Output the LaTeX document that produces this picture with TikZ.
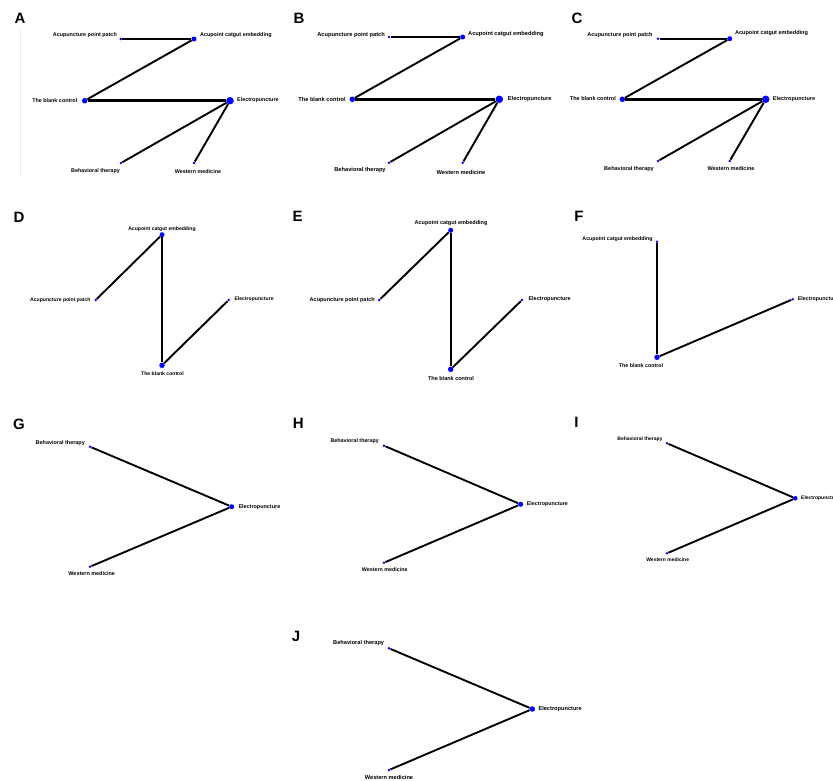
\documentclass[tikz,border=0pt]{standalone}
\usepackage{fontspec}
\newfontfamily\arialfont{Liberation Sans}
\definecolor{dotblue}{RGB}{0,0,255}
\tikzset{
  dot/.style={circle, fill=dotblue, draw=none, inner sep=0pt, minimum size=#1},
  edge/.style={line width=#1, black},
  lbl/.style={font=\arialfont\bfseries\fontsize{#1}{#1}\selectfont, inner sep=0pt, text=black},
  panel/.style={font=\arialfont\bfseries\fontsize{15}{15}\selectfont, inner sep=0pt}
}
\begin{document}
\begin{tikzpicture}[x=1pt,y=-1pt]
\path[use as bounding box] (0,0) rectangle (833,780);
\clip (0,0) rectangle (833,780);
\fill[white] (0,0) rectangle (833,780);

% ---------- A ----------
\node[panel] (LA) at (20,18) {A};
\draw[gray!15, line width=0.5pt] (20,30) -- (20,177);
\node[dot=2.8] (Ap) at (120.7,39) {};
\node[dot=5]   (Ac) at (194,39) {};
\node[dot=5.5] (Ab) at (84.7,100.7) {};
\node[dot=7.5] (Ae) at (230,100.7) {};
\node[dot=2.8] (At) at (121,163) {};
\node[dot=2.8] (Aw) at (194,163) {};
\draw[edge=2.2] (Ap) -- (Ac);
\draw[edge=1.9] (Ac) -- (Ab);
\draw[edge=2.5] (Ab) -- (Ae);
\draw[edge=1.9] (Ae) -- (At);
\draw[edge=1.9] (Ae) -- (Aw);
\node[lbl=5.4, anchor=east] (Apl) at (117,35) {Acupuncture point patch};
\node[lbl=5.4, anchor=west] (Acl) at (200,35) {Acupoint catgut embedding};
\node[lbl=5.4, anchor=east] (Abl) at (77.5,100.5) {The blank control};
\node[lbl=5.4, anchor=west] (Ael) at (237,100.5) {Electropuncture};
\node[lbl=5.4] (Atl) at (95.5,171.5) {Behavioral therapy};
\node[lbl=5.4] (Awl) at (198,171.5) {Western medicine};

% ---------- B ----------
\node[panel] (LB) at (299,18) {B};
\node[dot=2.8] (Bp) at (389,37) {};
\node[dot=5]   (Bc) at (462.7,37) {};
\node[dot=5.5] (Bb) at (352.3,99.3) {};
\node[dot=7.5] (Be) at (499.3,99.3) {};
\node[dot=2.8] (Bt) at (389,162.7) {};
\node[dot=2.8] (Bw) at (462.7,162.7) {};
\draw[edge=2.2] (Bp) -- (Bc);
\draw[edge=1.9] (Bc) -- (Bb);
\draw[edge=2.5] (Bb) -- (Be);
\draw[edge=1.9] (Be) -- (Bt);
\draw[edge=1.9] (Be) -- (Bw);
\node[lbl=5.7, anchor=east] (Bpl) at (385,35) {Acupuncture point patch};
\node[lbl=5.7, anchor=west] (Bcl) at (468,34) {Acupoint catgut embedding};
\node[lbl=5.7, anchor=east] (Bbl) at (346,99.5) {The blank control};
\node[lbl=5.7, anchor=west] (Bel) at (507.7,99.5) {Electropuncture};
\node[lbl=5.7] (Btl) at (360,170) {Behavioral therapy};
\node[lbl=5.7] (Bwl) at (461,172.3) {Western medicine};

% ---------- C ----------
\node[panel] (LC) at (577,18) {C};
\node[dot=2.8] (Cp) at (658,38.7) {};
\node[dot=5]   (Cc) at (729.7,38.7) {};
\node[dot=5.5] (Cb) at (622.3,99.3) {};
\node[dot=7.5] (Ce) at (765.7,99.3) {};
\node[dot=2.8] (Ct) at (658,161) {};
\node[dot=2.8] (Cw) at (729.7,161) {};
\draw[edge=2.2] (Cp) -- (Cc);
\draw[edge=1.9] (Cc) -- (Cb);
\draw[edge=2.5] (Cb) -- (Ce);
\draw[edge=1.9] (Ce) -- (Ct);
\draw[edge=1.9] (Ce) -- (Cw);
\node[lbl=5.5, anchor=east] (Cpl) at (652.7,35) {Acupuncture point patch};
\node[lbl=5.5, anchor=west] (Ccl) at (735,32.7) {Acupoint catgut embedding};
\node[lbl=5.5, anchor=east] (Cbl) at (616,99) {The blank control};
\node[lbl=5.5, anchor=west] (Cel) at (772.7,99) {Electropuncture};
\node[lbl=5.5] (Ctl) at (629,169) {Behavioral therapy};
\node[lbl=5.5] (Cwl) at (731,169) {Western medicine};

% ---------- D ----------
\node[panel] (LD) at (19,217) {D};
\node[dot=5]   (Dc) at (162,234.7) {};
\node[dot=2.8] (Dp) at (95.7,300) {};
\node[dot=2.8] (De) at (228.7,300) {};
\node[dot=5.5] (Db) at (162,365.3) {};
\draw[edge=1.9] (Dc) -- (Dp);
\draw[edge=2.3] (Dc) -- (Db);
\draw[edge=1.9] (Db) -- (De);
\node[lbl=5.1] (Dcl) at (162,229) {Acupoint catgut embedding};
\node[lbl=5.1, anchor=east] (Dpl) at (90.7,300) {Acupuncture point patch};
\node[lbl=5.1, anchor=west] (Del) at (234.3,299.3) {Electropuncture};
\node[lbl=5.1] (Dbl) at (162.5,374) {The blank control};

% ---------- E ----------
\node[panel] (LE) at (297.7,216.7) {E};
\node[dot=5]   (Ec) at (450.7,230.3) {};
\node[dot=2.8] (Ep) at (379.3,300) {};
\node[dot=2.8] (Ee) at (522,300) {};
\node[dot=5.5] (Eb) at (450.7,369.3) {};
\draw[edge=1.9] (Ec) -- (Ep);
\draw[edge=2.3] (Ec) -- (Eb);
\draw[edge=1.9] (Eb) -- (Ee);
\node[lbl=5.5] (Ecl) at (451,223.3) {Acupoint catgut embedding};
\node[lbl=5.5, anchor=east] (Epl) at (375,300) {Acupuncture point patch};
\node[lbl=5.5, anchor=west] (Eel) at (528.3,299.3) {Electropuncture};
\node[lbl=5.5] (Ebl) at (451,378.3) {The blank control};

% ---------- F ----------
\node[panel] (LF) at (579,216.7) {F};
\node[dot=2.8] (Fc) at (657,241.7) {};
\node[dot=5.5] (Fb) at (657,357.3) {};
\node[dot=2.8] (Fe) at (792.7,299.3) {};
\draw[edge=1.9] (Fc) -- (Fb);
\draw[edge=1.9] (Fb) -- (Fe);
\node[lbl=5.3, anchor=east] (Fcl) at (652.7,239) {Acupoint catgut embedding};
\node[lbl=5.3] (Fbl) at (641,365.7) {The blank control};
\node[lbl=5.3, anchor=west] (Fel) at (797.7,299.3) {Electropuncture};

% ---------- G ----------
\node[panel] (LG) at (19,424) {G};
\node[dot=2.8] (Gt) at (90,446.7) {};
\node[dot=5]   (Ge) at (231.7,506.7) {};
\node[dot=2.8] (Gw) at (90,566.7) {};
\draw[edge=1.9] (Gt) -- (Ge);
\draw[edge=1.9] (Gw) -- (Ge);
\node[lbl=5.45, anchor=east] (Gtl) at (85,443.3) {Behavioral therapy};
\node[lbl=5.45, anchor=west] (Gel) at (238.3,506.7) {Electropuncture};
\node[lbl=5.45] (Gwl) at (91.7,574) {Western medicine};

% ---------- H ----------
\node[panel] (LH) at (298.3,423.5) {H};
\node[dot=2.8] (Ht) at (384,445.7) {};
\node[dot=5]   (He) at (520.7,504.3) {};
\node[dot=2.8] (Hw) at (384,562.7) {};
\draw[edge=1.9] (Ht) -- (He);
\draw[edge=1.9] (Hw) -- (He);
\node[lbl=5.35, anchor=east] (Htl) at (379,441.3) {Behavioral therapy};
\node[lbl=5.35, anchor=west] (Hel) at (526.7,504.3) {Electropuncture};
\node[lbl=5.35] (Hwl) at (384.7,570) {Western medicine};

% ---------- I ----------
\node[panel] (LI) at (576.5,422.5) {I};
\node[dot=2.8] (It) at (667,443.3) {};
\node[dot=4.5] (Ie) at (795.3,498.3) {};
\node[dot=2.8] (Iw) at (667,553.3) {};
\draw[edge=1.9] (It) -- (Ie);
\draw[edge=1.9] (Iw) -- (Ie);
\node[lbl=5.0, anchor=east] (Itl) at (662.7,439) {Behavioral therapy};
\node[lbl=5.0, anchor=west] (Iel) at (801,498.3) {Electropuncture};
\node[lbl=5.0] (Iwl) at (667.7,560) {Western medicine};

% ---------- J ----------
\node[panel] (LJ) at (296,636.7) {J};
\node[dot=2.8] (Jt) at (389,648.3) {};
\node[dot=5.5] (Je) at (532.3,709) {};
\node[dot=2.8] (Jw) at (389,770) {};
\draw[edge=1.9] (Jt) -- (Je);
\draw[edge=1.9] (Jw) -- (Je);
\node[lbl=5.65, anchor=east] (Jtl) at (384.3,643.3) {Behavioral therapy};
\node[lbl=5.65, anchor=west] (Jel) at (538.3,709) {Electropuncture};
\node[lbl=5.65] (Jwl) at (389,777.3) {Western medicine};
\end{tikzpicture}
\end{document}
